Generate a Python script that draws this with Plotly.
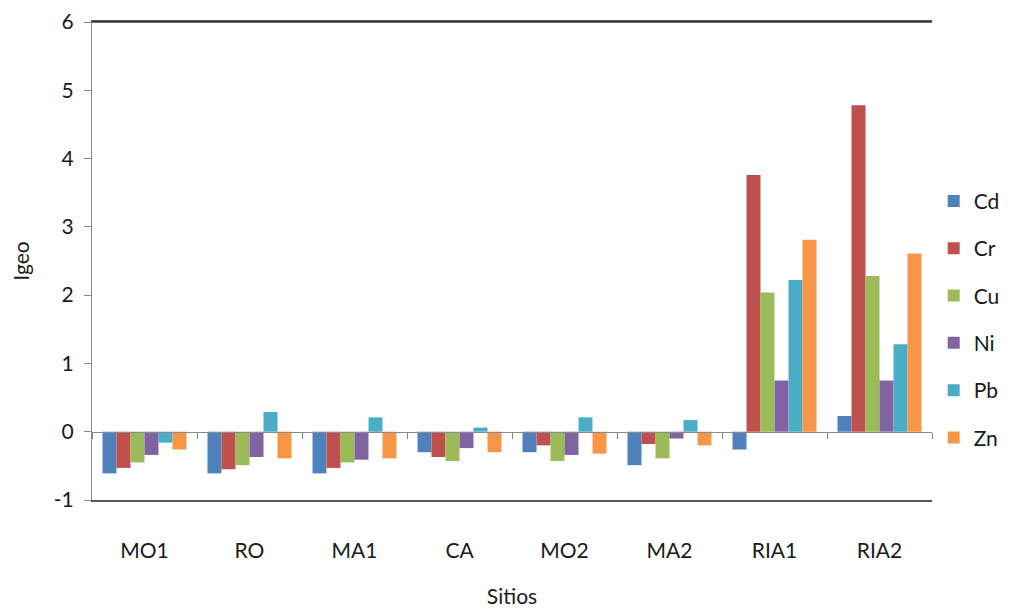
import plotly.graph_objects as go

# Igeo index per site and metal
sites = ["MO1", "RO", "MA1", "CA", "MO2", "MA2", "RIA1", "RIA2"]
metals = ["Cd", "Cr", "Cu", "Ni", "Pb", "Zn"]

cd = [-0.61, -0.61, -0.61, -0.30, -0.30, -0.49, -0.26, 0.23]
cr = [-0.53, -0.55, -0.53, -0.37, -0.20, -0.18, 3.76, 4.78]
cu = [-0.45, -0.49, -0.45, -0.43, -0.43, -0.39, 2.04, 2.28]
ni = [-0.34, -0.37, -0.41, -0.24, -0.34, -0.10, 0.75, 0.75]
pb = [-0.16, 0.29, 0.21, 0.06, 0.21, 0.17, 2.22, 1.28]
zn = [-0.26, -0.39, -0.39, -0.30, -0.32, -0.20, 2.81, 2.61]

y_ticks = [-1, 0, 1, 2, 3, 4, 5, 6]

series = [cd, cr, cu, ni, pb, zn]
colors = ["#4F81BD", "#C0504D", "#9BBB59", "#8064A2", "#4BACC6", "#F79646"]

font_family = "Lato, 'Open Sans', sans-serif"

fig = go.Figure()
for name, vals, col in zip(metals, series, colors):
    fig.add_trace(go.Bar(
        x=sites, y=vals, name=name, legendgroup=name,
        marker=dict(color=col, line=dict(width=0)),
    ))

# invisible trace that carries the category axis drawn along y = 0
fig.add_trace(go.Scatter(
    x=sites, y=[0] * len(sites), xaxis="x2", mode="markers",
    marker=dict(opacity=0), showlegend=False, hoverinfo="skip",
))

y_min, y_max = y_ticks[0], y_ticks[-1]

fig.update_layout(
    width=1020, height=608,
    margin=dict(l=92, r=88, t=22, b=108),
    paper_bgcolor="white", plot_bgcolor="white",
    barmode="group", bargap=0.2, bargroupgap=0,
    font=dict(family=font_family, size=21, color="#1a1a1a"),
    xaxis=dict(
        type="category", categoryarray=sites, range=[-0.5, 7.5],
        showline=True, linecolor="#555555", linewidth=1.5, mirror=True,
        ticks="", showgrid=False, ticklabelstandoff=31, automargin=False,
        tickfont=dict(size=21),
        title=dict(text="Sitios", font=dict(size=21), standoff=31),
    ),
    xaxis2=dict(
        type="category", categoryarray=sites, range=[-0.5, 7.5],
        overlaying="x", anchor="free", position=(0 - y_min) / (y_max - y_min),
        showline=True, linecolor="#8a8a8a", linewidth=1, automargin=False,
        ticks="outside", tickson="boundaries", ticklen=6, tickcolor="#8a8a8a",
        showticklabels=False, showgrid=False,
    ),
    yaxis=dict(
        range=[y_min, y_max], tickmode="array", tickvals=y_ticks,
        ticktext=[str(v) for v in y_ticks],
        showgrid=False, zeroline=False, automargin=False,
        showline=True, linecolor="#8a8a8a", linewidth=1, mirror=False,
        ticks="outside", ticklen=7, tickcolor="#8a8a8a",
        ticklabelstandoff=6, tickfont=dict(size=21),
        title=dict(text="Igeo", font=dict(size=21), standoff=18),
    ),
    legend=dict(
        x=1.002, y=0.378, xanchor="left", yanchor="middle",
        font=dict(size=21), tracegroupgap=17,
        itemwidth=30, bgcolor="rgba(0,0,0,0)",
    ),
)

# top border of the plot area
fig.add_shape(type="line", xref="paper", yref="paper", x0=0, x1=1, y0=1, y1=1,
              line=dict(color="#333333", width=1.5))

fig.write_html("out.html")
